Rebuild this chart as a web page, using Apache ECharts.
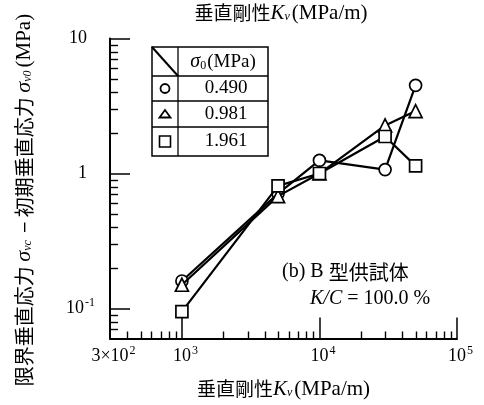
<!DOCTYPE html>
<html>
<head>
<meta charset="utf-8">
<script src="https://cdn.jsdelivr.net/npm/echarts@6/dist/echarts.min.js"></script>
<style>
  html, body { margin: 0; padding: 0; background: #fff; }
  #chart { width: 484px; height: 405px; }
</style>
</head>
<body>
<div id="chart"></div>
<script>
// Vertical stiffness K_v (MPa/m)
const stiffness = [1000, 5000, 10000, 30000, 50000];
// Critical vertical stress minus initial vertical stress (MPa), one list per initial stress
const stressLow = [0.16, 0.71, 1.25, 1.07, 4.5];    // sigma0 = 0.490
const stressMid = [0.15, 0.68, 1.0, 2.27, 2.9];     // sigma0 = 0.981
const stressHigh = [0.095, 0.81, 1.0, 1.88, 1.14];  // sigma0 = 1.961
const sigma0Labels = ['0.490', '0.981', '1.961'];
const seriesSymbols = ['circle', 'triangle', 'rect'];

// Axis ranges and tick positions
const X_MIN = 300, X_MAX = 100000;
const Y_MIN = 0.06, Y_MAX = 10;
const xMinorTicks = [400, 500, 600, 700, 800, 900,
  2000, 3000, 4000, 5000, 6000, 7000, 8000, 9000,
  20000, 30000, 40000, 50000, 60000, 70000, 80000, 90000];
const yMinorTicks = [0.07, 0.08, 0.09,
  0.2, 0.3, 0.4, 0.5, 0.6, 0.7, 0.8, 0.9,
  2, 3, 4, 5, 6, 7, 8, 9];

// plot area
const CHART_W = 484, CHART_H = 405;
const GRID = { left: 110, right: 27, top: 38.5, bottom: 66.5 };

const SERIF = "'Liberation Serif', 'Times New Roman', 'Noto Sans CJK JP', serif";
const CJK = "'Noto Sans CJK JP', sans-serif";

const labelRich = {
  b: { fontFamily: SERIF, fontSize: 18, color: '#000' },
  n: { fontFamily: SERIF, fontSize: 18, color: '#000', padding: [0, 8, 0, 0] },
  s: { fontFamily: SERIF, fontSize: 12, color: '#000', padding: [0, 0, 12, 1] }
};

function xLabel(v) {
  const e = Math.log10(v);
  const n = Math.round(e);
  if (Math.abs(e - n) < 1e-6) return '{b|10}{s|' + n + '}';
  const ex = Math.floor(e);
  const m = Math.round(v / Math.pow(10, ex));
  return '{b|' + m + '×10}{s|' + ex + '}';
}
function yLabel(v) {
  const e = Math.log10(v);
  const n = Math.round(e);
  if (Math.abs(e - n) > 1e-6) return '';
  if (n === 0) return '{n|1}';
  if (n === 1) return '{n|10}';
  return '{b|10}{s|' + n + '}';
}

const stiffnessTitleRich = {
  c: { fontFamily: CJK, fontSize: 19, color: '#000' },
  k: { fontFamily: SERIF, fontStyle: 'italic', fontSize: 21, color: '#000' },
  sub: { fontFamily: SERIF, fontStyle: 'italic', fontSize: 12, color: '#000', padding: [8, 2, 0, 0] },
  t: { fontFamily: SERIF, fontSize: 21, color: '#000' }
};
const stiffnessTitle = '{c|垂直剛性}{k|K}{sub|v}{t|(MPa/m)}';

const stressSeries = [stressLow, stressMid, stressHigh].map(function (vals, i) {
  return {
    type: 'line',
    name: sigma0Labels[i],
    data: stiffness.map(function (k, j) { return [k, vals[j]]; }),
    symbol: seriesSymbols[i],
    symbolSize: seriesSymbols[i] === 'triangle' ? 13 : 12,
    lineStyle: { color: '#000', width: 2.2 },
    itemStyle: { color: '#fff', borderColor: '#000', borderWidth: 1.7 },
    emphasis: { disabled: true },
    z: 3 + i
  };
});

// legend table (sigma0 column)
const tblL = 152, tblR = 268, tblT = 47, tblB = 156, tblDiv = 178;
const rowLines = [76, 101, 127];
const rowCenters = [88.5, 114, 141.5];
const legendGraphics = [
  { type: 'rect', shape: { x: tblL, y: tblT, width: tblR - tblL, height: tblB - tblT },
    style: { fill: '#fff', stroke: '#000', lineWidth: 1.5 }, z: 10 },
  { type: 'line', shape: { x1: tblDiv, y1: tblT, x2: tblDiv, y2: tblB },
    style: { stroke: '#000', lineWidth: 1.3 }, z: 11 },
  { type: 'line', shape: { x1: tblL, y1: tblT, x2: tblDiv, y2: rowLines[0] },
    style: { stroke: '#000', lineWidth: 2 }, z: 11 },
  { type: 'text', x: 223, y: 62, z: 11,
    style: { text: '{s|σ}{sub|0}{t|(MPa)}', align: 'center', verticalAlign: 'middle',
      rich: {
        s: { fontFamily: SERIF, fontStyle: 'italic', fontSize: 20, color: '#000' },
        sub: { fontFamily: SERIF, fontSize: 12, color: '#000', padding: [8, 1, 0, 0] },
        t: { fontFamily: SERIF, fontSize: 19, color: '#000' }
      } } }
].concat(rowLines.map(function (y) {
  return { type: 'line', shape: { x1: tblL, y1: y, x2: tblR, y2: y },
    style: { stroke: '#000', lineWidth: 1.3 }, z: 11 };
})).concat(sigma0Labels.map(function (lab, i) {
  return { type: 'text', x: 226, y: rowCenters[i], z: 11,
    style: { text: lab, fontFamily: SERIF, fontSize: 19, fill: '#000',
      align: 'center', verticalAlign: 'middle' } };
})).concat([
  { type: 'circle', shape: { cx: 165, cy: rowCenters[0], r: 4.5 },
    style: { fill: '#fff', stroke: '#000', lineWidth: 1.8 }, z: 11 },
  { type: 'polygon', shape: { points: [[165, rowCenters[1] - 4], [170.5, rowCenters[1] + 3.5], [159.5, rowCenters[1] + 3.5]] },
    style: { fill: '#fff', stroke: '#000', lineWidth: 1.8 }, z: 11 },
  { type: 'rect', shape: { x: 159.5, y: rowCenters[2] - 5.5, width: 11, height: 11 },
    style: { fill: '#fff', stroke: '#000', lineWidth: 1.6 }, z: 11 }
]);

const textGraphics = [
  { type: 'text', x: 281, y: 13,
    style: { text: stiffnessTitle, rich: stiffnessTitleRich, align: 'center', verticalAlign: 'middle' } },
  { type: 'text', x: 24, y: 200, rotation: Math.PI / 2,
    style: {
      text: '{c|限界垂直応力 }{s|σ}{sub|vc}{c| − 初期垂直応力 }{s|σ}{sub|v0}{t|(MPa)}',
      align: 'center', verticalAlign: 'middle',
      rich: {
        c: { fontFamily: CJK, fontSize: 20, color: '#000' },
        s: { fontFamily: SERIF, fontStyle: 'italic', fontSize: 22, color: '#000' },
        sub: { fontFamily: SERIF, fontStyle: 'italic', fontSize: 12, color: '#000', padding: [8, 3, 0, 0] },
        t: { fontFamily: SERIF, fontSize: 21, color: '#000' }
      }
    } },
  { type: 'text', x: 282, y: 272,
    style: { text: '{t|(b) B }{c|型供試体}', align: 'left', verticalAlign: 'middle',
      rich: {
        t: { fontFamily: SERIF, fontSize: 20, color: '#000' },
        c: { fontFamily: CJK, fontSize: 20, color: '#000' }
      } } },
  { type: 'text', x: 310, y: 299,
    style: { text: '{i|K/C}{t| = 100.0 %}', align: 'left', verticalAlign: 'middle',
      rich: {
        i: { fontFamily: SERIF, fontStyle: 'italic', fontSize: 20, color: '#000' },
        t: { fontFamily: SERIF, fontSize: 20, color: '#000' }
      } } }
];

const chart = echarts.init(document.getElementById('chart'));
chart.setOption({
  animation: false,
  backgroundColor: '#fff',
  grid: { left: GRID.left, right: GRID.right, top: GRID.top, bottom: GRID.bottom,
    containLabel: false, outerBoundsMode: 'none' },
  xAxis: {
    type: 'log', min: X_MIN, max: X_MAX,
    axisLine: { show: true, lineStyle: { color: '#000', width: 2 } },
    axisTick: { show: true, inside: true, length: 21, lineStyle: { color: '#000', width: 1.5 } },
    splitLine: { show: false },
    axisLabel: { formatter: xLabel, rich: labelRich, margin: 6, padding: [0, 0, 0, 7], color: '#000',
      showMinLabel: true, showMaxLabel: true, hideOverlap: false },
    name: stiffnessTitle, nameLocation: 'middle', nameGap: 40,
    nameTextStyle: { rich: stiffnessTitleRich, color: '#000' }
  },
  yAxis: {
    type: 'log', min: Y_MIN, max: Y_MAX,
    axisLine: { show: true, lineStyle: { color: '#000', width: 2 } },
    axisTick: { show: true, inside: true, length: 20, lineStyle: { color: '#000', width: 1.5 } },
    splitLine: { show: false },
    axisLabel: { formatter: yLabel, rich: labelRich, margin: 15, color: '#000',
      showMinLabel: true, showMaxLabel: true, hideOverlap: false }
  },
  series: stressSeries
});

// pixel position of a value along one axis; falls back to the axis' log extent
const plotLeft = GRID.left, plotRight = CHART_W - GRID.right;
const plotTop = GRID.top, plotBottom = CHART_H - GRID.bottom;
function axisPixel(isX, v) {
  let r;
  try {
    r = chart.convertToPixel(isX ? { xAxisIndex: 0 } : { yAxisIndex: 0 }, v);
  } catch (e) { r = null; }
  if (Array.isArray(r)) r = isX ? r[0] : r[1];
  if (typeof r !== 'number' || !isFinite(r)) {
    const lo = Math.log10(isX ? X_MIN : Y_MIN), hi = Math.log10(isX ? X_MAX : Y_MAX);
    const t = (Math.log10(v) - lo) / (hi - lo);
    r = isX ? plotLeft + t * (plotRight - plotLeft) : plotBottom - t * (plotBottom - plotTop);
  }
  return r;
}

// short inward minor ticks (2..9 of each decade)
const tickGraphics = [];
xMinorTicks.forEach(function (v) {
  const px = Math.round(axisPixel(true, v)) + 0.5;
  tickGraphics.push({ type: 'line', silent: true, z: 20,
    shape: { x1: px, y1: plotBottom, x2: px, y2: plotBottom - 7 },
    style: { stroke: '#000', lineWidth: 1.4 } });
});
yMinorTicks.forEach(function (v) {
  const py = Math.round(axisPixel(false, v)) + 0.5;
  tickGraphics.push({ type: 'line', silent: true, z: 20,
    shape: { x1: plotLeft, y1: py, x2: plotLeft + 8, y2: py },
    style: { stroke: '#000', lineWidth: 1.4 } });
});
chart.setOption({ graphic: { elements: textGraphics.concat(legendGraphics, tickGraphics) } });
</script>
</body>
</html>
